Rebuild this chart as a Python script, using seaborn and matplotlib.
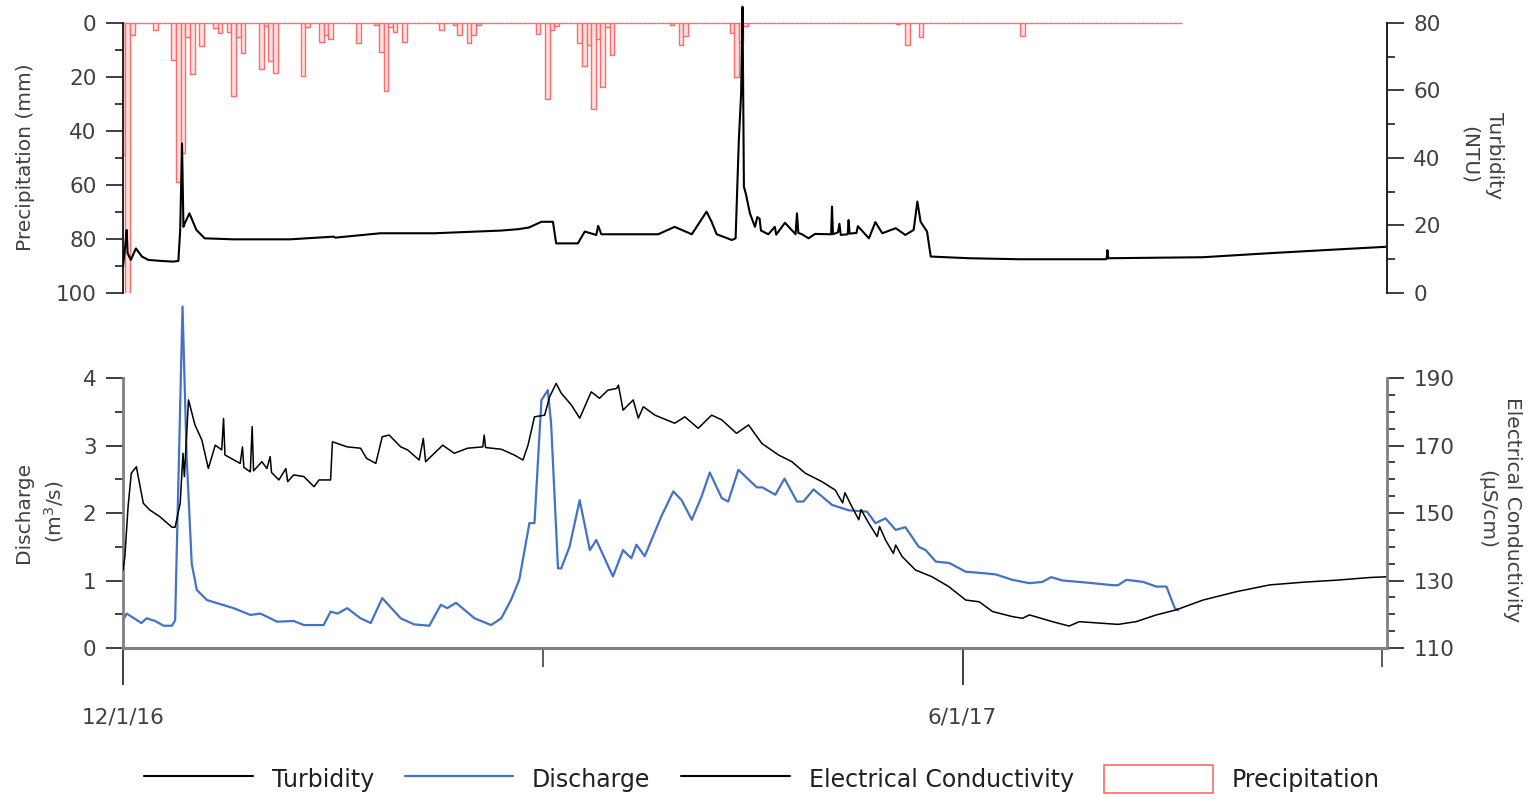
import numpy as np
import pandas as pd
import matplotlib
matplotlib.use("Agg")
import matplotlib.pyplot as plt
import seaborn as sns
from matplotlib.ticker import FixedLocator
from matplotlib.lines import Line2D
from matplotlib.patches import Patch

# ---------------- data (x = days since 12/1/16) ----------------
x_major_days = [0, 182]
x_major_labels = ["12/1/16", "6/1/17"]
x_minor_days = [91, 273]

# daily precipitation (mm); days not listed had 0 mm
rain_days = [0, 1, 2, 7, 11, 12, 13, 14, 15, 17, 20, 21, 23, 24, 25, 26, 30, 31, 32, 33,
             39, 40, 43, 44, 45, 51, 55, 56, 57, 58, 59, 61, 69, 72, 73, 75, 76, 77,
             90, 92, 93, 94, 99, 100, 101, 102, 103, 104, 105, 106, 119, 121, 122,
             132, 133, 134, 135, 168, 170, 173, 195]
rain_mm = [49, 100, 4.4, 2.6, 13.7, 59, 48, 5.3, 19, 8.5, 2, 3.8, 3.5, 27, 5, 11, 17, 1, 14, 18.6,
           19.6, 1.5, 7, 4.4, 6, 7.5, 0.8, 10.6, 25, 1.5, 3.2, 7, 2.5, 0.8, 4.4, 7.5, 4.4, 0.8,
           4, 28, 2.5, 1, 7.5, 16, 8, 32, 6, 23.6, 1.5, 12, 0.8, 8, 4.8,
           3.6, 20, 7, 1, 0.5, 8, 5.3, 4.8]
precip_last_day = 229

turb_day = [0, 0.5, 0.8, 1.0, 1.7, 2.8, 4.1, 5.5, 8.3, 10.9, 12.0, 12.4, 12.8, 13.1, 13.5, 14.4,
            15.9, 17.7, 23.9, 36.2, 45.7, 46.0, 55.8, 67.5, 82.0, 85.6, 88.0, 90.7, 93.2, 93.9,
            98.6, 100.1, 102.6, 103.0, 103.7, 116.0, 119.6, 123.3, 126.5, 127.6, 128.7, 132.0,
            132.8, 133.5, 134.0, 134.3, 134.6, 135.0, 135.9, 137.0, 137.5, 138.0, 138.3, 139.9,
            141.3, 141.6, 143.5, 145.8, 146.1, 146.4, 147.2, 148.6, 150.0, 153.5, 153.7, 153.9,
            155.0, 155.3, 155.6, 157.1, 157.3, 157.5, 159.0, 159.3, 161.7, 163.1, 164.6, 167.5,
            169.6, 171.4, 172.2, 172.9, 174.3, 175.1, 183.4, 194.3, 213.2, 213.4, 213.6, 234.1,
            248.6, 263.1, 273.9]
turb_ntu = [7.8, 14.2, 18.7, 11.8, 9.8, 13.2, 10.8, 9.8, 9.5, 9.3, 9.5, 18.7, 44.3, 19.6, 21.0, 23.6,
            18.7, 16.2, 15.9, 15.9, 16.7, 16.4, 17.7, 17.7, 18.5, 18.9, 19.4, 21.1, 21.1, 14.7,
            14.7, 18.2, 17.2, 19.9, 17.4, 17.4, 19.6, 17.4, 24.1, 21.1, 17.4, 15.7,
            16.2, 45.3, 59.2, 84.8, 31.5, 29.5, 23.6, 19.6, 22.5, 22.0, 18.5, 17.4,
            19.6, 17.3, 20.8, 17.4, 23.6, 17.8, 17.4, 16.2, 17.5, 17.4, 25.6, 17.4,
            18.0, 20.5, 17.2, 17.4, 21.6, 17.6, 17.8, 19.8, 16.2, 21.0, 17.7, 19.2,
            17.2, 18.7, 27.1, 21.1, 18.2, 10.8, 10.3, 10.0, 10.0, 12.7, 10.3, 10.6,
            11.8, 12.9, 13.7]

q_day = [0, 0.8, 4.0, 5.1, 7.0, 8.8, 10.6, 11.3, 12.9, 13.8, 14.9, 16.0, 18.2, 24.0, 27.6, 29.8,
         33.4, 37.0, 39.2, 43.5, 45.0, 46.5, 48.6, 51.5, 53.7, 56.2, 60.2, 63.1, 66.4, 68.9,
         70.3, 72.2, 76.2, 79.8, 82.0, 84.1, 85.9, 88.1, 89.2, 90.7, 92.1, 92.8, 94.3, 95.0,
         96.8, 99.0, 101.2, 102.6, 106.2, 108.4, 110.2, 111.3, 113.1, 116.7, 119.3, 121.1,
         123.3, 125.4, 127.2, 129.8, 131.2, 133.4, 137.4, 138.6, 141.4, 143.4, 146.1, 147.5,
         149.7, 153.7, 157.3, 161.3, 163.1, 165.3, 167.5, 169.6, 172.5, 174.0, 176.2, 179.1,
         182.7, 186.3, 189.2, 192.8, 196.5, 199.3, 201.2, 203.7, 208.8, 214.6, 215.7, 217.5,
         221.1, 224.0, 226.2, 228.0, 228.7]
q_cms = [0.41, 0.51, 0.37, 0.44, 0.40, 0.33, 0.33, 0.41, 5.06, 2.83, 1.25, 0.86, 0.71, 0.59, 0.49, 0.51,
         0.39, 0.40, 0.34, 0.34, 0.54, 0.51, 0.59, 0.44, 0.37, 0.74, 0.44, 0.35, 0.33, 0.64,
         0.59, 0.67, 0.44, 0.34, 0.44, 0.71, 1.01, 1.85, 1.85, 3.67, 3.82, 3.33, 1.18, 1.18,
         1.50, 2.19, 1.45, 1.60, 1.06, 1.45, 1.33, 1.53, 1.36, 1.95, 2.32, 2.19,
         1.90, 2.24, 2.60, 2.22, 2.17, 2.64, 2.38, 2.38, 2.27, 2.51, 2.17, 2.17,
         2.35, 2.12, 2.04, 2.02, 1.85, 1.92, 1.75, 1.79, 1.50, 1.45, 1.28, 1.26,
         1.13, 1.11, 1.09, 1.01, 0.96, 0.98, 1.05, 1.00, 0.97, 0.93, 0.93, 1.01,
         0.98, 0.91, 0.91, 0.59, 0.56]

ec_day = [0, 0.4, 1.1, 1.8, 2.9, 4.4, 5.8, 8.0, 10.6, 11.3, 12.4, 13.0, 13.3, 14.2, 15.6, 17.1,
          18.5, 20.0, 21.4, 21.8, 22.1, 25.4, 25.9, 26.2, 27.6, 28.0, 28.3, 30.1, 31.2, 31.9,
          32.2, 33.8, 35.3, 35.7, 37.0, 39.2, 41.4, 42.5, 45.0, 45.4, 48.6, 51.5, 52.8, 54.8,
          56.2, 57.7, 60.2, 61.7, 64.2, 65.1, 65.6, 67.5, 69.3, 71.8, 74.7, 78.0, 78.3, 78.6,
          82.0, 84.8, 86.7, 87.8, 89.2, 91.4, 92.5, 93.9, 95.0, 97.2, 99.0, 101.5, 103.3, 105.1,
          107.0, 107.4, 108.4, 110.6, 111.7, 112.8, 115.3, 119.6, 121.8, 124.7, 127.6, 129.8,
          133.0, 135.6, 138.5, 142.1, 145.0, 147.9, 151.5, 154.4, 156.0, 156.5, 158.0, 159.5,
          160.0, 161.7, 163.5, 164.0, 165.3, 167.0, 167.5, 168.9, 171.8, 175.4, 179.0, 182.7,
          185.6, 188.5, 192.8, 195.0, 196.5, 201.5, 205.1, 207.3, 212.4, 215.7, 219.6, 224.0,
          228.3, 234.1, 241.4, 248.6, 255.9, 263.1, 270.4, 273.9]
ec_us = [133.1, 137.0, 151.9, 161.8, 163.7, 152.9, 150.9, 148.9, 145.8, 145.8, 152.9, 167.7, 160.8, 183.5, 176.1, 171.6,
         163.2, 170.1, 168.7, 178.0, 167.2, 164.7, 169.6, 163.5, 162.2, 175.6, 162.5, 165.2, 163.2, 166.7,
         162.0, 159.8, 163.2, 159.3, 161.3, 160.8, 157.8, 159.8, 159.8, 171.1, 169.6, 169.2, 166.2, 164.7,
         172.6, 173.1, 169.6, 168.7, 165.7, 172.1, 165.2, 167.7, 170.1, 167.7, 169.2, 169.6, 173.1, 169.4,
         168.9, 167.2, 165.7, 170.1, 178.5, 179.0, 184.5, 188.4, 185.5, 182.0, 178.1, 185.9, 184.0, 186.4,
         186.9, 187.9, 180.5, 183.5, 178.1, 181.5, 179.0, 176.6, 178.5, 175.1, 179.0, 177.6,
         173.6, 176.1, 170.6, 167.2, 165.2, 161.8, 159.3, 156.8, 153.0, 156.0, 151.9, 148.0,
         151.0, 146.9, 143.0, 146.0, 142.0, 138.0, 140.5, 137.1, 133.1, 131.1, 128.2, 124.2,
         123.7, 120.8, 119.3, 118.8, 119.8, 117.8, 116.5, 117.8, 117.3, 117.0, 117.8, 119.8,
         121.3, 124.2, 126.7, 128.7, 129.5, 130.1, 130.9, 131.1]

# ---------------- styling ----------------
sns.set_theme(style="white")
plt.rcParams["font.family"] = ["DejaVu Sans"]
TXT = "#404040"
GRID = "#808080"

W, H = 1530, 811
fig = plt.figure(figsize=(W / 100, H / 100), dpi=100)
x_left, x_right = 123, 1387
span = x_right - x_left
ax_w = span / W

# top panel (precip + turbidity): y pixels 5..293
ax_p = fig.add_axes([x_left / W, 1 - 293 / H, ax_w, (293 - 5) / H])
ax_t = ax_p.twinx()
# bottom panel (discharge + EC): y pixels 300..648
ax_q = fig.add_axes([x_left / W, 1 - 648 / H, ax_w, (648 - 300) / H], sharex=ax_p)
ax_ec = ax_q.twinx()

for a in (ax_p, ax_t, ax_q, ax_ec):
    a.set_facecolor("none")

# precipitation bars
all_days = np.arange(0, precip_last_day + 1)
precip = np.zeros(len(all_days))
precip[rain_days] = rain_mm
df_p = pd.DataFrame({"day": all_days, "mm": precip})
sns.histplot(data=df_p, x="day", weights="mm", discrete=True, ax=ax_p,
             color="#ffe3e3", edgecolor="#ff6a6a", linewidth=1.0, alpha=1.0)

sns.lineplot(x=turb_day, y=turb_ntu, ax=ax_t, color="black", linewidth=1.5,
             sort=False, estimator=None, errorbar=None, legend=False)
sns.lineplot(x=q_day, y=q_cms, ax=ax_q, color="#4472C4", linewidth=1.6,
             sort=False, estimator=None, errorbar=None, legend=False)
sns.lineplot(x=ec_day, y=ec_us, ax=ax_ec, color="black", linewidth=1.1,
             sort=False, estimator=None, errorbar=None, legend=False)

# x axis
xmax = span / 4.613
ax_q.set_xlim(0, xmax)
ax_q.xaxis.set_major_locator(FixedLocator(x_major_days))
ax_q.set_xticklabels(x_major_labels)
ax_q.xaxis.set_minor_locator(FixedLocator(x_minor_days))
ax_q.tick_params(axis="x", which="major", direction="out", length=26.5, width=1.3,
                 color="#303030", labelsize=15.5, labelcolor=TXT, pad=16, bottom=True)
ax_q.tick_params(axis="x", which="minor", direction="out", length=13.5, width=1.3,
                 color="#505050", bottom=True)
ax_p.tick_params(axis="x", which="both", bottom=False, labelbottom=False)

# top panel y axes
ax_p.set_ylim(100, -6.67)
ax_p.yaxis.set_major_locator(FixedLocator([0, 20, 40, 60, 80, 100]))
ax_p.yaxis.set_minor_locator(FixedLocator([10, 30, 50, 70, 90]))
ax_t.set_ylim(0, 85.33)
ax_t.yaxis.set_major_locator(FixedLocator([0, 20, 40, 60, 80]))
ax_t.yaxis.set_minor_locator(FixedLocator([10, 30, 50, 70]))

# bottom panel y axes
ax_q.set_ylim(0, 5.156)
ax_q.yaxis.set_major_locator(FixedLocator([0, 1, 2, 3, 4]))
ax_q.yaxis.set_minor_locator(FixedLocator([0.5, 1.5, 2.5, 3.5]))
ax_ec.set_ylim(110, 110 + 5.156 * 20)
ax_ec.yaxis.set_major_locator(FixedLocator([110, 130, 150, 170, 190]))
ax_ec.yaxis.set_minor_locator(FixedLocator([115, 120, 125, 135, 140, 145, 155, 160, 165, 175, 180, 185]))

for a, side in ((ax_p, "left"), (ax_q, "left"), (ax_t, "right"), (ax_ec, "right")):
    a.tick_params(axis="y", which="major", direction="out", length=12, width=1.3,
                  color="#303030", labelsize=15.5, labelcolor=TXT, pad=7,
                  left=(side == "left"), right=(side == "right"))
    a.tick_params(axis="y", which="minor", direction="out", length=6, width=1.3,
                  color="#303030", left=(side == "left"), right=(side == "right"))

# spines
for a in (ax_p, ax_t, ax_q, ax_ec):
    for s in a.spines.values():
        s.set_visible(False)
ax_p.spines["left"].set_visible(True)
ax_p.spines["left"].set_bounds(0, 100)
ax_p.spines["left"].set_color("#202020")
ax_p.spines["left"].set_linewidth(1.4)
ax_t.spines["right"].set_visible(True)
ax_t.spines["right"].set_bounds(0, 80)
ax_t.spines["right"].set_color("#202020")
ax_t.spines["right"].set_linewidth(1.4)
ax_q.spines["left"].set_visible(True)
ax_q.spines["left"].set_bounds(0, 4)
ax_q.spines["left"].set_color(GRID)
ax_q.spines["left"].set_linewidth(2)
ax_q.spines["bottom"].set_visible(True)
ax_q.spines["bottom"].set_color(GRID)
ax_q.spines["bottom"].set_linewidth(2.2)
ax_ec.spines["right"].set_visible(True)
ax_ec.spines["right"].set_bounds(110, 190)
ax_ec.spines["right"].set_color(GRID)
ax_ec.spines["right"].set_linewidth(2)

# axis labels (centred at measured pixel positions)
ax_p.set_xlabel("")
ax_q.set_xlabel("")
lab_kw = dict(fontsize=14.5, color=TXT, linespacing=1.45)


def place(ax, text, rot, cx, cy, y_top, y_bot):
    ax.set_ylabel(text, rotation=rot, **lab_kw)
    ax.yaxis.label.set_va("center")
    ax.yaxis.label.set_ha("center")
    ax.yaxis.set_label_coords((cx - x_left) / span, (y_bot - cy) / (y_bot - y_top))


place(ax_p, "Precipitation (mm)", 90, 25, 157, 5, 293)
place(ax_t, "Turbidity\n(NTU)", 270, 1482, 155, 5, 293)
place(ax_q, "Discharge\n(m$^3$/s)", 90, 40, 512, 300, 648)
place(ax_ec, "Electrical Conductivity\n(µS/cm)", 270, 1500, 510, 300, 648)

# legend
handles = [Line2D([], [], color="black", linewidth=1.5),
           Line2D([], [], color="#4472C4", linewidth=1.6),
           Line2D([], [], color="black", linewidth=1.5),
           Patch(facecolor="white", edgecolor="#ff6a6a", linewidth=1.2)]
labels = ["Turbidity", "Discharge", "Electrical Conductivity", "Precipitation"]
fig.legend(handles, labels, loc="center", bbox_to_anchor=(762 / W, 1 - 779 / H), ncol=4,
           frameon=False, fontsize=17, handlelength=4.6, handleheight=1.5,
           handletextpad=0.8, columnspacing=1.3, labelcolor="#202020")

fig.savefig("out.png", dpi=100)
